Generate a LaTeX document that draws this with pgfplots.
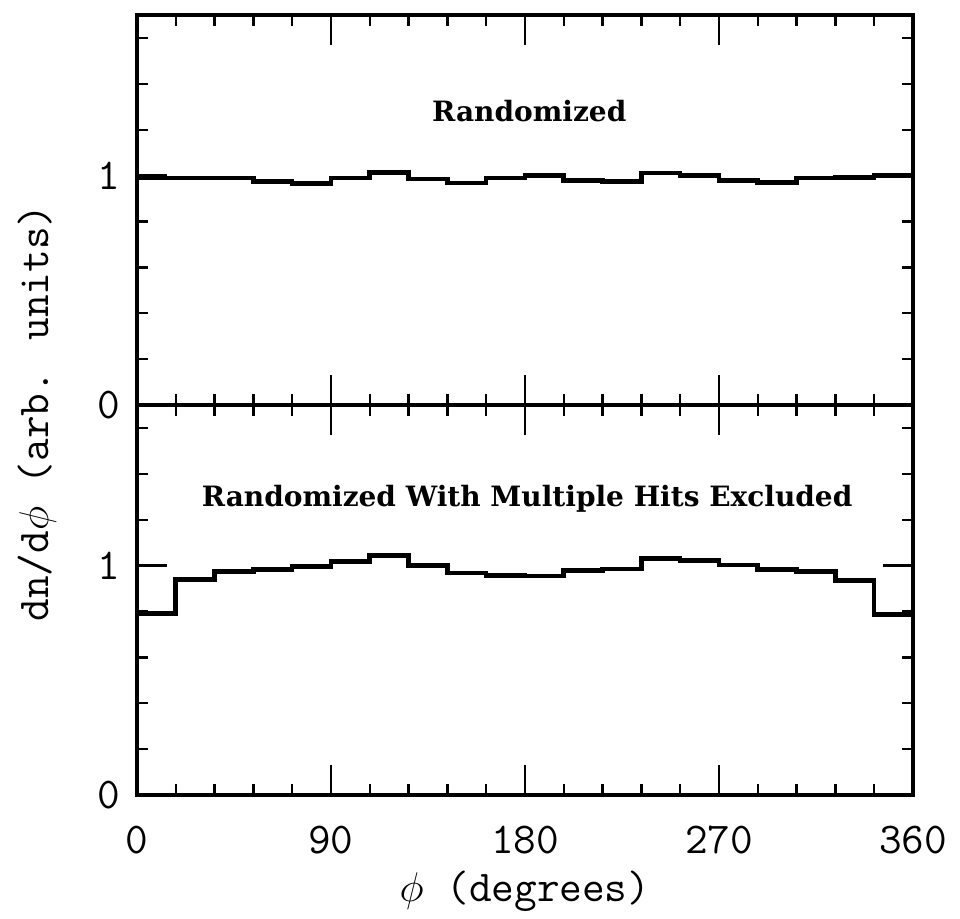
\documentclass[border=0pt]{standalone}
\usepackage{fontspec}
\newfontfamily\slab{DejaVu Serif}
\usepackage{pgfplots}
\pgfplotsset{compat=1.18}
\begin{document}
\begin{tikzpicture}
\path[use as bounding box] (-68.5pt,-256.5pt) rectangle (411.5pt,202.5pt);
\pgfplotsset{
 panel/.style={
  scale only axis, width=388pt, height=195pt,
  xmin=0, xmax=360, ymin=0, ymax=1.7,
  xtick={0,90,180,270,360}, minor x tick num=4,
  ytick={0,1}, minor ytick={0.2,0.4,0.6,0.8,1.2,1.4,1.6},
  major tick length=15pt, minor tick length=5.5pt,
  tick style={line width=1.2pt, black},
  axis line style={line width=1.6pt},
  tick align=inside,
  ticklabel style={font=\ttfamily\fontsize{22}{22}\selectfont},
  /pgf/number format/assume math mode=true,
  yticklabel style={xshift=-5pt},
  xticklabel style={yshift=-12pt},
 }
}
\begin{axis}[panel, at={(0,0)}, anchor=south west, xticklabels={}]
\addplot[const plot, line width=2.3pt] coordinates {
(0,0.990) (18,0.990) (36,0.990) (54,0.974) (72,0.965) (90,0.989) (108,1.013) (126,0.985) (144,0.968) (162,0.989)
(180,1.001) (198,0.978) (216,0.973) (234,1.011) (252,1.001) (270,0.978) (288,0.969) (306,0.989) (324,0.992) (342,1.000) (360,1.000)};
\node[font=\slab\bfseries\fontsize{14}{17}\selectfont] at (axis cs:182,1.28) {Randomized};
\end{axis}
\begin{axis}[panel, at={(0,0)}, anchor=north west,
  xlabel={$\phi$ (degrees)},
  xlabel style={at={(axis description cs:0.5,0)}, anchor=center, yshift=-48pt, font=\ttfamily\fontsize{22}{26}\selectfont}]
\addplot[const plot, line width=2.3pt] coordinates {
(0,0.791) (18,0.940) (36,0.974) (54,0.982) (72,0.996) (90,1.017) (108,1.045) (126,1.000) (144,0.967) (162,0.958)
(180,0.955) (198,0.978) (216,0.986) (234,1.032) (252,1.023) (270,1.002) (288,0.982) (306,0.975) (324,0.934) (342,0.787) (360,0.787)};
\node[font=\slab\bfseries\fontsize{14}{17}\selectfont] at (axis cs:181,1.29) {Randomized With Multiple Hits Excluded};
\end{axis}
\node[rotate=90, font=\ttfamily\fontsize{22}{26}\selectfont] at (-50pt,-4pt) {dn/d$\phi$ (arb. units)};
\end{tikzpicture}
\end{document}
